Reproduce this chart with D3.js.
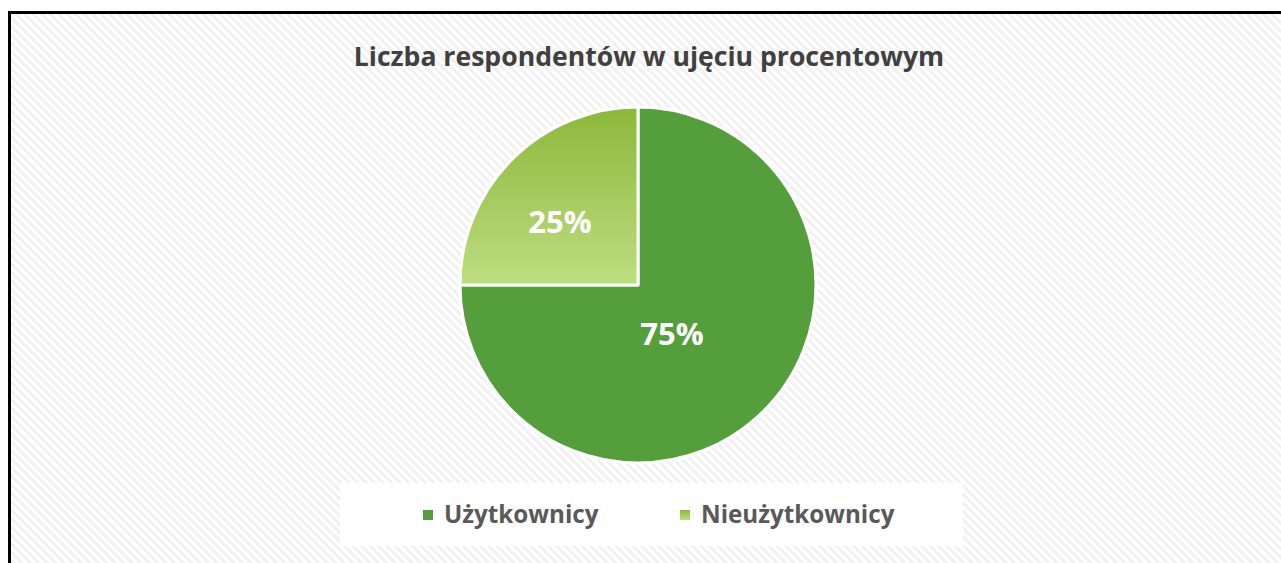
<!DOCTYPE html>
<html>
<head>
<meta charset="utf-8">
<script src="https://cdn.jsdelivr.net/npm/d3@7"></script>
<style>
  body { margin: 0; background: #fff; }
  svg { display: block; }
</style>
</head>
<body>
<div id="chart"></div>
<script>
// Data
var categories = ["Użytkownicy", "Nieużytkownicy"];
var values = [75, 25];
var labels = ["75%", "25%"];

var width = 1281, height = 563;

var svg = d3.select("#chart")
    .append("svg")
    .attr("width", width)
    .attr("height", height);

var defs = svg.append("defs");

// striped background
var pat = defs.append("pattern")
    .attr("id", "stripes")
    .attr("patternUnits", "userSpaceOnUse")
    .attr("width", 6)
    .attr("height", 6)
    .attr("patternTransform", "rotate(-45)");
pat.append("rect").attr("width", 6).attr("height", 6).attr("fill", "#ffffff");
pat.append("rect").attr("width", 3).attr("height", 6).attr("fill", "#f1f1f1");

var cx = 638, cy = 285, r = 178;

// gradient for the small slice (coords relative to the pie group)
var grad = defs.append("linearGradient")
    .attr("id", "lightGreen")
    .attr("gradientUnits", "userSpaceOnUse")
    .attr("x1", 0).attr("y1", -r).attr("x2", 0).attr("y2", 0);
grad.append("stop").attr("offset", "0%").attr("stop-color", "#8cb83a");
grad.append("stop").attr("offset", "100%").attr("stop-color", "#bedd81");

var legGrad = defs.append("linearGradient")
    .attr("id", "legGrad")
    .attr("x1", 0).attr("y1", 0).attr("x2", 0).attr("y2", 1);
legGrad.append("stop").attr("offset", "0%").attr("stop-color", "#8cb83a");
legGrad.append("stop").attr("offset", "100%").attr("stop-color", "#bedd81");

var fills = ["#549f3b", "url(#lightGreen)"];
var legFills = ["#549f3b", "url(#legGrad)"];

// chart area with frame
svg.append("rect")
    .attr("x", 9.5)
    .attr("y", 12.5)
    .attr("width", width + 20)
    .attr("height", height + 20)
    .attr("fill", "url(#stripes)")
    .attr("stroke", "#000")
    .attr("stroke-width", 3);

// title
svg.append("text")
    .attr("x", 649)
    .attr("y", 66)
    .attr("text-anchor", "middle")
    .style("font-family", "'Open Sans', sans-serif")
    .style("font-weight", "bold")
    .style("font-size", "26.6px")
    .style("fill", "#404040")
    .text("Liczba respondentów w ujęciu procentowym");

// pie
var pie = d3.pie().sort(null).value(d => d);
var arc = d3.arc().innerRadius(0).outerRadius(r);
var arcs = pie(values);

var g = svg.append("g").attr("transform", "translate(" + cx + "," + cy + ")");

g.selectAll("path")
    .data(arcs)
    .enter()
    .append("path")
    .attr("d", arc)
    .attr("fill", (d, i) => fills[i])
    .attr("stroke", "#fff")
    .attr("stroke-width", 3)
    .attr("stroke-linejoin", "round");

// label placement like Excel's best fit: distance along bisector + small downward shift
var labelK = [0.27, 0.62];
g.selectAll("text.lbl")
    .data(arcs)
    .enter()
    .append("text")
    .attr("class", "lbl")
    .attr("transform", (d, i) => {
        var la = d3.arc().innerRadius(r * labelK[i]).outerRadius(r * labelK[i]);
        var c = la.centroid(d);
        return "translate(" + c[0] + "," + (c[1] + 15) + ")";
    })
    .attr("text-anchor", "middle")
    .attr("dy", "0.35em")
    .style("font-family", "'Open Sans', sans-serif")
    .style("font-weight", "bold")
    .style("font-size", "31px")
    .style("fill", "#fff")
    .text((d, i) => labels[i]);

// legend
svg.append("rect")
    .attr("x", 340)
    .attr("y", 483)
    .attr("width", 623)
    .attr("height", 63)
    .attr("fill", "#fff");

var legX = [423, 680];
var leg = svg.selectAll("g.leg")
    .data(categories)
    .enter()
    .append("g")
    .attr("class", "leg")
    .attr("transform", (d, i) => "translate(" + legX[i] + ",510)");

leg.append("rect")
    .attr("width", 10)
    .attr("height", 10)
    .attr("fill", (d, i) => legFills[i]);

leg.append("text")
    .attr("x", 21)
    .attr("y", 5)
    .attr("dy", "0.35em")
    .style("font-family", "'Open Sans', sans-serif")
    .style("font-weight", "bold")
    .style("font-size", "24.2px")
    .style("fill", "#595959")
    .text(d => d);
</script>
</body>
</html>
